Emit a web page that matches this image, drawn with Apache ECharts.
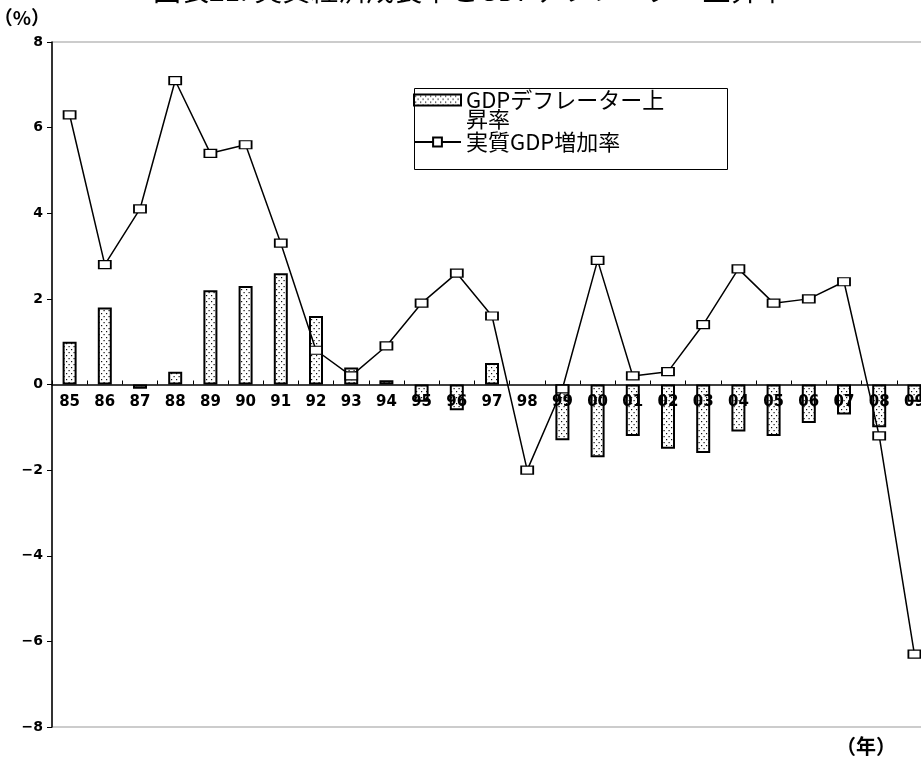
<!DOCTYPE html>
<html>
<head>
<meta charset="utf-8">
<script src="https://cdn.jsdelivr.net/npm/echarts@6/dist/echarts.min.js"></script>
<style>
html,body{margin:0;padding:0;background:#fff;}
#chart{width:921px;height:763px;}
</style>
</head>
<body>
<div id="chart"></div>
<script>
const categories = ['85','86','87','88','89','90','91','92','93','94','95','96','97','98','99','00','01','02','03','04','05','06','07','08','09'];
const deflatorValues = [1.0, 1.8, -0.1, 0.3, 2.2, 2.3, 2.6, 1.6, 0.4, 0.1, -0.4, -0.6, 0.5, null, -1.3, -1.7, -1.2, -1.5, -1.6, -1.1, -1.2, -0.9, -0.7, -1.0, -0.4];
const realGrowthValues = [6.3, 2.8, 4.1, 7.1, 5.4, 5.6, 3.3, 0.8, 0.2, 0.9, 1.9, 2.6, 1.6, -2.0, -0.1, 2.9, 0.2, 0.3, 1.4, 2.7, 1.9, 2.0, 2.4, -1.2, -6.3];
const seriesNames = ['GDPデフレーター上昇率', '実質GDP増加率'];
const yTicks = {min: -8, max: 8, interval: 2};
const titleText = '図表21: 実質経済成長率とGDPデフレーター上昇率';

// dotted fill pattern
const pc = document.createElement('canvas');
pc.width = 5; pc.height = 6;
const pctx = pc.getContext('2d');
pctx.fillStyle = '#ffffff';
pctx.fillRect(0, 0, 5, 6);
pctx.fillStyle = '#111111';
pctx.fillRect(1, 1, 1.2, 1.2);
pctx.fillRect(3.5, 4, 1.2, 1.2);
const dotPattern = {image: pc, repeat: 'repeat'};

const jp = '"Noto Sans CJK JP", sans-serif';
const num = '"DejaVu Sans", sans-serif';

const gridTop = 42, gridHeight = 685;

const chart = echarts.init(document.getElementById('chart'), null, {renderer: 'canvas'});
chart.setOption({
  animation: false,
  backgroundColor: '#ffffff',
  title: {
    text: titleText,
    left: 153,
    top: -24,
    padding: 0,
    textStyle: {fontFamily: jp, fontSize: 28, fontWeight: 'normal', color: '#000'}
  },
  grid: {
    left: 52,
    top: gridTop,
    width: 880,
    height: gridHeight,
    outerBoundsMode: 'none',
    containLabel: false,
    show: true,
    borderColor: '#999999',
    borderWidth: 1,
    backgroundColor: 'transparent'
  },
  legend: {
    orient: 'vertical',
    left: 413,
    top: 70,
    padding: 0,
    itemGap: 1,
    itemWidth: 47,
    itemHeight: 11,
    textStyle: {fontFamily: jp, fontSize: 22, color: '#000', lineHeight: 19},
    data: [
      {name: seriesNames[0], icon: 'rect'},
      {name: seriesNames[1]}
    ],
    formatter: function (n) { return n === seriesNames[0] ? '\nGDPデフレーター上\n昇率' : n; }
  },
  graphic: [
    {type: 'rect', left: 412, top: 86, shape: {width: 313, height: 81}, style: {fill: null, stroke: '#000', lineWidth: 1}, silent: true, z: 0},
    {type: 'text', left: 836, top: 736, style: {text: '（年）', fontFamily: jp, fontSize: 20, fontWeight: 'bold', fill: '#000'}}
  ],
  xAxis: {
    type: 'category',
    data: categories,
    offset: -(gridHeight / 2),
    axisLine: {onZero: false, lineStyle: {color: '#000', width: 1.5}},
    axisTick: {show: true, inside: true, length: 4, alignWithLabel: false, lineStyle: {color: '#000'}},
    axisLabel: {margin: 10, fontFamily: num, fontSize: 15, fontWeight: 'bold', color: '#000', interval: 0},
    splitLine: {show: false},
    z: 5
  },
  yAxis: {
    type: 'value',
    min: yTicks.min,
    max: yTicks.max,
    interval: yTicks.interval,
    name: '（%）',
    nameLocation: 'end',
    nameGap: 24,
    nameTextStyle: {fontFamily: jp, fontSize: 19, fontWeight: 'bold', color: '#000', align: 'right', verticalAlign: 'middle', padding: [0, 2, 0, 0]},
    axisLine: {show: true, lineStyle: {color: '#000', width: 1.5}},
    axisTick: {show: true, length: 5, lineStyle: {color: '#000'}},
    axisLabel: {
      margin: 9,
      fontFamily: num,
      fontSize: 14,
      fontWeight: 'bold',
      color: '#000',
      formatter: function (v) { return v < 0 ? '\u2212' + (-v) : String(v); }
    },
    splitLine: {show: false}
  },
  series: [
    {
      name: seriesNames[0],
      type: 'bar',
      data: deflatorValues,
      barWidth: 14,
      itemStyle: {color: dotPattern, borderColor: '#000', borderWidth: 2},
      z: 2
    },
    {
      name: seriesNames[1],
      type: 'line',
      data: realGrowthValues,
      symbol: 'rect',
      symbolSize: [12, 8],
      showAllSymbol: true,
      lineStyle: {color: '#000', width: 1.5},
      itemStyle: {color: '#fff', borderColor: '#000', borderWidth: 1.5},
      z: 4
    }
  ]
});
</script>
</body>
</html>
